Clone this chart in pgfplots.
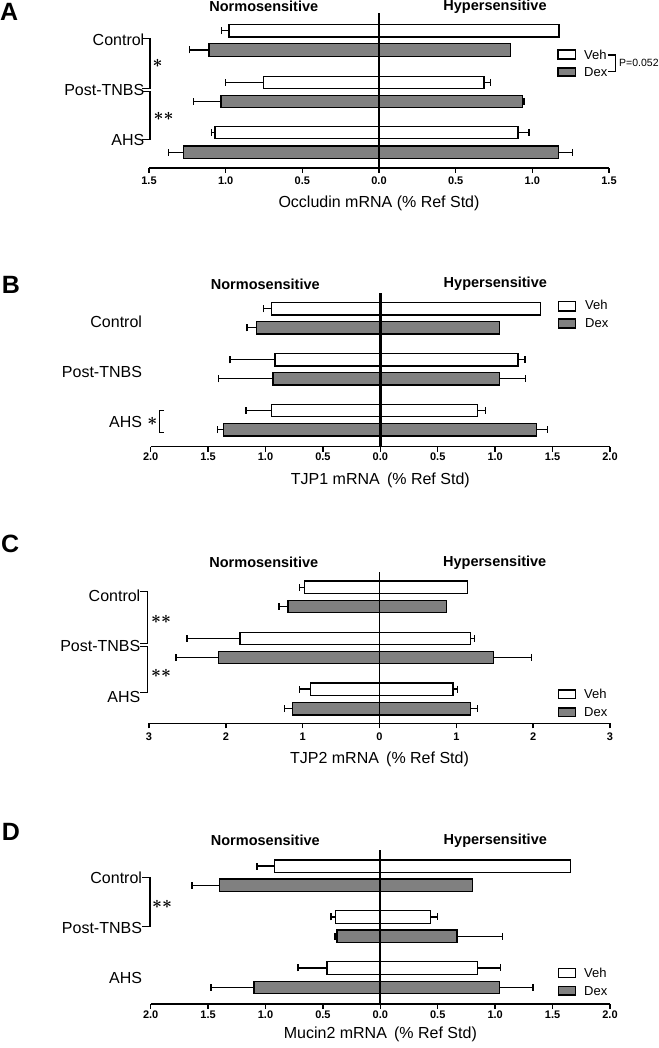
\documentclass[border=0pt]{standalone}
\usepackage{pgfplots}
\pgfplotsset{compat=1.18}
\usepackage{fontspec}
\setmainfont{Liberation Sans}
\definecolor{dexgray}{RGB}{128,128,128}
\newcommand{\fs}[1]{\fontsize{#1}{#1}\selectfont}
\newcommand{\sig}[1]{{\boldmath$#1$}}

\pgfplotsset{
  panel/.style={
    scale only axis,
    anchor=south west,
    clip=false,
    axis x line*=bottom,
    axis y line*=left,
    y axis line style={draw=none},
    x axis line style={line width=1.4pt},
    ytick style={draw=none},
    tick align=outside,
    major tick length=5pt,
    xtick style={line width=1.4pt, black},
    xticklabel style={font=\fs{11}\bfseries, anchor=center},
    yticklabel style={font=\fs{16}, anchor=east, inner sep=0pt, xshift=-3.5pt},
    xlabel style={font=\fs{16}, at={(axis description cs:0.5,0)}, anchor=center},
    /pgf/number format/assume math mode=true,
  },
  nbar/.style={xbar, bar shift=0pt, bar width=12.5pt, draw=black, line width=1.3pt},
  hbar/.style={nbar,
    error bars/x explicit,
    error bars/error mark=|,
    error bars/error bar style={line width=1.4pt, black},
    error bars/error mark options={black, line width=1.4pt, mark size=3.5pt}},
  lft/.style={error bars/x dir=minus},
  rgt/.style={error bars/x dir=plus},
}

\begin{document}
\begin{tikzpicture}[x=1pt,y=1pt]
\path[use as bounding box] (0,0) rectangle (658,1048);

% ---------------- Panel A ----------------
\begin{axis}[panel, at={(149pt,880pt)}, width=460pt, height=155pt,
  xmin=-1.5, xmax=1.5, ymin=880, ymax=1035,
  xtick={-1.5,-1,-0.5,0,0.5,1,1.5}, xticklabels={1.5,1.0,0.5,0.0,0.5,1.0,1.5},
  xticklabel style={yshift=-7.3pt},
  yticklabel style={xshift=4pt},
  ytick={1008,958,908}, yticklabels={Control,Post-TNBS,AHS},
  xlabel={Occludin mRNA (\% Ref Std)},
  xlabel style={yshift=-35pt}]
\addplot[hbar, lft, fill=white] coordinates {(-0.978,1017.3) +- (0.048,0) (-0.754,965.5) +- (0.248,0) (-1.070,915.5) +- (0.021,0)};
\addplot[hbar, lft, fill=dexgray] coordinates {(-1.109,998) +- (0.126,0) (-1.031,946.5) +- (0.180,0) (-1.276,895.7) +- (0.096,0)};
\addplot[nbar, fill=white] coordinates {(1.174,1017.3)};
\addplot[nbar, fill=dexgray] coordinates {(0.859,998)};
\addplot[hbar, rgt, fill=white] coordinates {(0.685,965.5) +- (0.044,0) (0.907,915.5) +- (0.071,0)};
\addplot[hbar, rgt, fill=dexgray] coordinates {(0.935,946.5) +- (0.010,0) (1.172,895.7) +- (0.091,0)};
\draw[line width=2.6pt] (axis cs:0,880) -- (axis cs:0,1035);
\end{axis}
\node[font=\fs{25}\bfseries, anchor=west, inner sep=0pt] at (0,1036) {A};
\node[font=\fs{14.5}\bfseries] at (263.8,1041.5) {Normosensitive};
\node[font=\fs{14.5}\bfseries] at (495,1041.5) {Hypersensitive};
\draw[line width=1.2pt, fill=white] (558,989) rectangle (575.7,998);
\draw[line width=1.2pt, fill=dexgray] (558,972) rectangle (575.7,980);
\node[font=\fs{13}, anchor=west, inner sep=0pt] at (584,993.3) {Veh};
\node[font=\fs{13}, anchor=west, inner sep=0pt] at (584,976.3) {Dex};
\draw[line width=1.2pt] (607.5,993) -- (615.7,993) -- (615.7,976.3) -- (607.5,976.3);
\node[font=\fs{10.5}, anchor=west, inner sep=0pt] at (619,985) {P=0.052};
\draw[line width=1.3pt] (142,1009.5) -- (150,1009.5) -- (150,959.5) -- (142,959.5);
\draw[line width=1.3pt] (142,956.5) -- (150,956.5) -- (150,908.5) -- (142,908.5);
\node[font=\fs{17}] at (157.5,984.7) {\sig{\ast}};
\node[font=\fs{17}] at (163.5,931.3) {\sig{\ast\ast}};

% ---------------- Panel B ----------------
\begin{axis}[panel, at={(150.7pt,601.3pt)}, width=459.3pt, height=154pt,
  xmin=-2, xmax=2, ymin=601.3, ymax=755.3,
  xtick={-2,-1.5,-1,-0.5,0,0.5,1,1.5,2}, xticklabels={2.0,1.5,1.0,0.5,0.0,0.5,1.0,1.5,2.0},
  xticklabel style={yshift=-5pt},
  ytick={726.3,676.3,626.3}, yticklabels={Control,Post-TNBS,AHS},
  xlabel={TJP1 mRNA\hspace{0.45em}(\% Ref Std)},
  xlabel style={yshift=-34pt}]
\addplot[hbar, lft, fill=white] coordinates {(-0.947,739.2) +- (0.073,0) (-0.918,688.2) +- (0.392,0) (-0.947,637.5) +- (0.223,0)};
\addplot[hbar, lft, fill=dexgray] coordinates {(-1.078,720.2) +- (0.084,0) (-0.935,669.2) +- (0.474,0) (-1.368,618.3) +- (0.052,0)};
\addplot[nbar, fill=white] coordinates {(1.394,739.2)};
\addplot[nbar, fill=dexgray] coordinates {(1.037,720.2)};
\addplot[hbar, rgt, fill=white] coordinates {(1.200,688.2) +- (0.061,0) (0.845,637.5) +- (0.070,0)};
\addplot[hbar, rgt, fill=dexgray] coordinates {(1.037,669.2) +- (0.227,0) (1.362,618.3) +- (0.093,0)};
\draw[line width=2.6pt] (axis cs:0,601.3) -- (axis cs:0,755.3);
\end{axis}
\node[font=\fs{25}\bfseries, anchor=west, inner sep=0pt] at (1.7,763) {B};
\node[font=\fs{14.5}\bfseries] at (265.3,764) {Normosensitive};
\node[font=\fs{14.5}\bfseries] at (495.3,764) {Hypersensitive};
\draw[line width=1.2pt, fill=white] (558.7,737) rectangle (575.7,746.3);
\draw[line width=1.2pt, fill=dexgray] (558.7,720) rectangle (575.7,729);
\node[font=\fs{13}, anchor=west, inner sep=0pt] at (585,742.7) {Veh};
\node[font=\fs{13}, anchor=west, inner sep=0pt] at (585,724.7) {Dex};
\node[font=\fs{17}] at (152.3,627) {\sig{\ast}};
\draw[line width=1.3pt] (164,637.5) -- (159.3,637.5) -- (159.3,615.5) -- (164,615.5);

% ---------------- Panel C ----------------
\begin{axis}[panel, at={(149pt,324.7pt)}, width=461pt, height=151.6pt,
  xmin=-3, xmax=3, ymin=324.7, ymax=476.3,
  xtick={-3,-2,-1,0,1,2,3}, xticklabels={3,2,1,0,1,2,3},
  xticklabel style={yshift=-8pt},
  ytick={452,402,351.3}, yticklabels={Control,Post-TNBS,AHS},
  xlabel={TJP2 mRNA\hspace{0.45em}(\% Ref Std)},
  xlabel style={yshift=-36.5pt}]
\addplot[hbar, lft, fill=white] coordinates {(-0.980,460.7) +- (0.060,0) (-1.814,409.5) +- (0.690,0) (-0.898,358.8) +- (0.142,0)};
\addplot[hbar, lft, fill=dexgray] coordinates {(-1.189,441.5) +- (0.121,0) (-2.091,390.5) +- (0.556,0) (-1.133,339.3) +- (0.100,0)};
\addplot[nbar, fill=white] coordinates {(1.146,460.7)};
\addplot[nbar, fill=dexgray] coordinates {(0.869,441.5)};
\addplot[hbar, rgt, fill=white] coordinates {(1.181,409.5) +- (0.052,0) (0.955,358.8) +- (0.061,0)};
\addplot[hbar, rgt, fill=dexgray] coordinates {(1.485,390.5) +- (0.490,0) (1.185,339.3) +- (0.090,0)};
\draw[line width=1.3pt] (axis cs:0,324.7) -- (axis cs:0,476.3);
\end{axis}
\node[font=\fs{25}\bfseries, anchor=west, inner sep=0pt] at (1,504) {C};
\node[font=\fs{14.5}\bfseries] at (263.8,485.5) {Normosensitive};
\node[font=\fs{14.5}\bfseries] at (494.7,485.5) {Hypersensitive};
\draw[line width=1.2pt, fill=white] (558.7,349.3) rectangle (575.7,358);
\draw[line width=1.2pt, fill=dexgray] (558.7,331.7) rectangle (575.7,340);
\node[font=\fs{13}, anchor=west, inner sep=0pt] at (584,353.7) {Veh};
\node[font=\fs{13}, anchor=west, inner sep=0pt] at (584,335.7) {Dex};
\draw[line width=1.3pt] (140,456.3) -- (147.7,456.3) -- (147.7,404.7) -- (140,404.7);
\draw[line width=1.3pt] (140,401.3) -- (147.7,401.3) -- (147.7,355.3) -- (140,355.3);
\node[font=\fs{17}] at (161,428.7) {\sig{\ast\ast}};
\node[font=\fs{17}] at (161,374.7) {\sig{\ast\ast}};

% ---------------- Panel D ----------------
\begin{axis}[panel, at={(150.7pt,44pt)}, width=459.3pt, height=154pt,
  xmin=-2, xmax=2, ymin=44, ymax=198,
  xtick={-2,-1.5,-1,-0.5,0,0.5,1,1.5,2}, xticklabels={2.0,1.5,1.0,0.5,0.0,0.5,1.0,1.5,2.0},
  xticklabel style={yshift=-5.5pt},
  ytick={170.3,120.3,69.7}, yticklabels={Control,Post-TNBS,AHS},
  xlabel={Mucin2 mRNA\hspace{0.45em}(\% Ref Std)},
  xlabel style={yshift=-30pt}]
\addplot[hbar, lft, fill=white] coordinates {(-0.921,181.8) +- (0.154,0) (-0.392,131) +- (0.038,0) (-0.465,80) +- (0.252,0)};
\addplot[hbar, lft, fill=dexgray] coordinates {(-1.400,162.7) +- (0.241,0) (-0.377,111.7) +- (0.018,0) (-1.101,60.5) +- (0.374,0)};
\addplot[nbar, fill=white] coordinates {(1.656,181.8)};
\addplot[nbar, fill=dexgray] coordinates {(0.805,162.7)};
\addplot[hbar, rgt, fill=white] coordinates {(0.439,131) +- (0.061,0) (0.843,80) +- (0.203,0)};
\addplot[hbar, rgt, fill=dexgray] coordinates {(0.668,111.7) +- (0.398,0) (1.037,60.5) +- (0.294,0)};
\draw[line width=2pt] (axis cs:0,44) -- (axis cs:0,198);
\end{axis}
\node[font=\fs{25}\bfseries, anchor=west, inner sep=0pt] at (1.7,216.3) {D};
\node[font=\fs{14.5}\bfseries] at (265.3,207.2) {Normosensitive};
\node[font=\fs{14.5}\bfseries] at (495.3,207.2) {Hypersensitive};
\draw[line width=1.2pt, fill=white] (558.7,70.7) rectangle (575.7,79.3);
\draw[line width=1.2pt, fill=dexgray] (558.7,53) rectangle (575.7,61.3);
\node[font=\fs{13}, anchor=west, inner sep=0pt] at (584,75) {Veh};
\node[font=\fs{13}, anchor=west, inner sep=0pt] at (584,57.3) {Dex};
\draw[line width=1.3pt] (142,170.3) -- (150,170.3) -- (150,121.3) -- (142,121.3);
\node[font=\fs{17}] at (162,144) {\sig{\ast\ast}};
\end{tikzpicture}
\end{document}
